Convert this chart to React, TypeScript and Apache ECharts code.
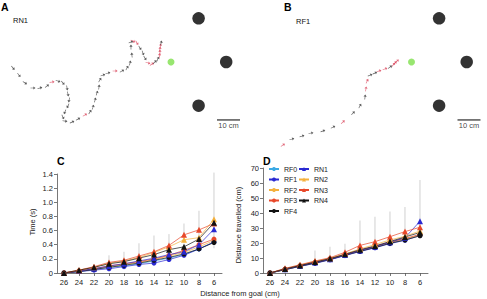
import React, { useEffect, useRef } from "react";
import * as echarts from "echarts";

// Distance from goal (cm) at which each measurement was taken
const distances = [26, 24, 22, 20, 18, 16, 14, 12, 10, 8, 6];

// Time to reach each distance (s)
const timeRF0 = [0, 0.02, 0.05, 0.08, 0.1, 0.13, 0.17, 0.21, 0.26, 0.34, 0.44];
const timeRF1 = [0, 0.02, 0.04, 0.06, 0.09, 0.12, 0.14, 0.19, 0.25, 0.34, 0.44];
const timeRF2 = [0, 0.03, 0.06, 0.09, 0.12, 0.15, 0.19, 0.24, 0.29, 0.37, 0.46];
const timeRF3 = [0, 0.03, 0.06, 0.1, 0.13, 0.16, 0.2, 0.25, 0.32, 0.4, 0.48];
const timeRF4 = [0, 0.02, 0.05, 0.08, 0.11, 0.14, 0.18, 0.22, 0.27, 0.34, 0.43];
const timeRN1 = [0, 0.03, 0.06, 0.1, 0.13, 0.17, 0.21, 0.26, 0.3, 0.4, 0.62];
const timeRN2 = [0, 0.04, 0.08, 0.14, 0.17, 0.22, 0.29, 0.37, 0.47, 0.5, 0.76];
const timeRN3 = [0, 0.04, 0.09, 0.15, 0.18, 0.24, 0.3, 0.39, 0.54, 0.61, 0.7];
const timeRN4 = [0, 0.04, 0.08, 0.13, 0.16, 0.21, 0.26, 0.33, 0.37, 0.48, 0.71];
const timeErrLow = [0, 0, 0.06, 0.12, 0.16, 0.2, 0.25, 0.3, 0.42, 0.45, 0.35];
const timeErrHigh = [0, 0, 0.12, 0.25, 0.3, 0.42, 0.53, 0.55, 0.7, 0.88, 1.42];

// Distance travelled to reach each distance (cm)
const travRF0 = [0, 2.3, 4.6, 6.7, 9.1, 11.9, 14.6, 17.2, 20.0, 22.3, 25.5];
const travRF1 = [0, 2.2, 4.4, 6.4, 8.8, 11.6, 14.3, 16.8, 19.6, 21.8, 25.0];
const travRF2 = [0, 2.4, 4.7, 6.9, 9.3, 12.1, 14.9, 17.5, 20.3, 22.6, 25.2];
const travRF3 = [0, 2.5, 4.9, 7.1, 9.5, 12.3, 15.1, 17.8, 20.6, 23.0, 25.8];
const travRF4 = [0, 2.2, 4.5, 6.6, 9.0, 11.8, 14.5, 17.0, 19.8, 22.0, 24.8];
const travRN1 = [0, 2.5, 4.8, 7.0, 9.2, 12.0, 15.0, 17.5, 20.5, 23.5, 34.5];
const travRN2 = [0, 2.8, 5.3, 7.8, 9.8, 12.8, 16.0, 19.0, 22.0, 24.5, 28.0];
const travRN3 = [0, 3.1, 5.5, 8.0, 10.2, 13.8, 18.4, 20.9, 24.2, 27.6, 30.5];
const travRN4 = [0, 2.7, 5.0, 7.3, 9.6, 12.5, 15.5, 18.0, 21.0, 24.0, 27.0];
const travErrLow = [0, 0, 4.5, 6.4, 9.0, 12.0, 15.0, 18.0, 21.0, 24.0, 26.0];
const travErrHigh = [0, 0, 6.5, 15.0, 17.5, 19.5, 35.0, 37.5, 41.0, 44.0, 62.0];

// Arena layout (cm, goal at origin)
const goal = [[0, 0]];
const objects = [
  [12, 19],
  [24, 0],
  [12, -19],
];
const scaleBar = [
  [20, -25.2],
  [30, -25.2],
];

// Head positions along each track (x cm, y cm, 1 = red segment)
const trackRN1 = [
  [-71.3, 0.4, 0], [-68.7, -2.6, 0], [-66.1, -5.7, 0], [-63.5, -9.1, 0], [-60.0, -11.3, 0],
  [-57.0, -11.3, 0], [-53.9, -10.4, 0], [-51.7, -8.7, 1], [-49.1, -8.3, 0], [-47.0, -9.1, 0],
  [-45.2, -11.3, 0], [-44.8, -13.9, 0], [-44.3, -16.5, 0], [-44.8, -19.1, 0], [-46.1, -21.7, 0],
  [-47.0, -23.9, 0], [-46.1, -25.7, 0], [-43.0, -26.1, 0], [-40.4, -24.8, 0], [-37.4, -23.0, 1],
  [-35.2, -21.7, 0], [-33.9, -19.6, 0], [-33.0, -16.5, 0], [-32.2, -13.5, 0], [-31.3, -10.9, 0],
  [-30.9, -7.8, 0], [-29.6, -5.7, 0], [-27.4, -4.8, 0], [-24.3, -3.9, 1], [-21.3, -3.9, 0],
  [-19.1, -2.6, 0], [-17.8, -0.4, 0], [-17.0, 3.0, 0], [-17.4, 6.5, 0], [-17.4, 8.7, 0],
  [-16.5, 9.1, 1], [-14.8, 8.3, 1], [-13.5, 6.1, 0], [-12.2, 3.9, 0], [-11.3, 1.7, 0],
  [-10.0, -0.4, 1], [-8.3, -0.9, 1], [-7.0, 0.0, 0], [-5.7, 1.3, 0], [-5.0, 2.8, 1],
  [-4.8, 4.3, 1], [-4.8, 5.6, 1], [-4.6, 7.0, 1], [-4.3, 8.3, 0],
];
const trackRF1 = [
  [-55.9, -36.1, 1], [-52.0, -33.5, 0], [-47.6, -32.2, 0], [-43.7, -30.9, 0], [-38.5, -30.0, 0],
  [-34.1, -28.3, 0], [-29.8, -26.1, 1], [-25.4, -22.2, 0], [-22.4, -19.1, 0], [-20.2, -15.2, 0],
  [-19.8, -11.7, 1], [-19.3, -8.3, 1], [-18.0, -5.7, 0], [-15.9, -4.8, 0], [-14.1, -3.9, 1],
  [-11.5, -3.0, 1], [-9.3, -2.2, 0], [-7.8, -1.1, 1], [-7.2, -0.4, 1], [-6.3, 0.4, 1],
];

const FONT = "'Liberation Sans', Arial, Helvetica, sans-serif";
const GREY = "#333333";
const RED = "#d9435a";

const colors: Record<string, string> = {
  RF0: "#3aa9e4",
  RF1: "#2a2ad2",
  RF2: "#f4b13c",
  RF3: "#e8482a",
  RF4: "#111111",
  RN1: "#2a2ad2",
  RN2: "#f4b13c",
  RN3: "#e8482a",
  RN4: "#111111",
};

const timeSeries: [string, number[]][] = [
  ["RF0", timeRF0], ["RF1", timeRF1], ["RF2", timeRF2], ["RF3", timeRF3], ["RF4", timeRF4],
  ["RN1", timeRN1], ["RN2", timeRN2], ["RN3", timeRN3], ["RN4", timeRN4],
];
const travSeries: [string, number[]][] = [
  ["RF0", travRF0], ["RF1", travRF1], ["RF2", travRF2], ["RF3", travRF3], ["RF4", travRF4],
  ["RN1", travRN1], ["RN2", travRN2], ["RN3", travRN3], ["RN4", travRN4],
];

const ARROW = "path://M5,0 L10,6 L6,6 L6,14 L4,14 L4,6 L0,6 Z";

function trackItems(track: number[][]) {
  return track.map((p, i) => {
    const a = i < track.length - 1 ? track[i] : track[i - 1];
    const b = i < track.length - 1 ? track[i + 1] : track[i];
    const ang = (Math.atan2(b[1] - a[1], b[0] - a[0]) * 180) / Math.PI - 90;
    return {
      value: [p[0], p[1]],
      symbolRotate: ang,
      itemStyle: { color: p[2] ? RED : GREY },
    };
  });
}

function arenaSeries(idx: number, track: number[][]) {
  return [
    {
      type: "scatter",
      xAxisIndex: idx,
      yAxisIndex: idx,
      symbol: ARROW,
      symbolSize: [3.2, 5],
      data: trackItems(track),
      silent: true,
    },
    {
      type: "scatter",
      xAxisIndex: idx,
      yAxisIndex: idx,
      symbolSize: 12.5,
      itemStyle: { color: "#000" },
      data: objects,
      silent: true,
    },
    {
      type: "scatter",
      xAxisIndex: idx,
      yAxisIndex: idx,
      symbolSize: 7,
      itemStyle: { color: "#7ee04c" },
      data: goal,
      silent: true,
    },
    {
      type: "line",
      xAxisIndex: idx,
      yAxisIndex: idx,
      symbol: "none",
      lineStyle: { color: "#000", width: 1 },
      data: scaleBar,
      silent: true,
    },
    {
      type: "scatter",
      xAxisIndex: idx,
      yAxisIndex: idx,
      symbolSize: 0,
      data: [[(scaleBar[0][0] + scaleBar[1][0]) / 2, scaleBar[0][1]]],
      label: {
        show: true,
        position: "bottom",
        distance: 1.5,
        formatter: "10 cm",
        fontFamily: FONT,
        fontSize: 7.5,
        color: "#111",
      },
      silent: true,
    },
  ];
}

function lineSeries(idx: number, list: [string, number[]][]) {
  return list.map(([name, vals]) => ({
    type: "line",
    name,
    xAxisIndex: idx,
    yAxisIndex: idx,
    data: distances.map((d, i) => [d, vals[i]]),
    symbol: name.startsWith("RF") ? "circle" : "triangle",
    symbolSize: name.startsWith("RF") ? 5 : 6,
    itemStyle: { color: colors[name] },
    lineStyle: { color: colors[name], width: 0.7 },
    z: 3,
  }));
}

function errorSeries(idx: number, lo: number[], hi: number[]) {
  return {
    type: "custom",
    xAxisIndex: idx,
    yAxisIndex: idx,
    silent: true,
    z: 1,
    encode: { x: 0, y: [1, 2] },
    data: distances.map((d, i) => [d, lo[i], hi[i]]),
    renderItem: (_params: any, api: any) => {
      const x = api.value(0);
      const a = api.coord([x, api.value(1)]);
      const b = api.coord([x, api.value(2)]);
      return {
        type: "line",
        shape: { x1: a[0], y1: a[1], x2: b[0], y2: b[1] },
        style: { stroke: "#c4c4c4", lineWidth: 0.8 },
      };
    },
  };
}

const axisText = { fontFamily: FONT, fontSize: 7.5, color: "#222" };
const axisLine = { show: true, lineStyle: { color: "#555", width: 0.8 } };

function distAxis(idx: number) {
  return {
    type: "value",
    gridIndex: idx,
    inverse: true,
    min: 4.93,
    max: 26.93,
    axisLine,
    axisTick: { show: true, length: 3, lineStyle: { color: "#555", width: 0.8 }, customValues: distances },
    axisLabel: { ...axisText, margin: 5, customValues: distances },
    splitLine: { show: false },
  };
}

const hiddenAxis = (idx: number, min: number, max: number) => ({
  type: "value",
  gridIndex: idx,
  min,
  max,
  show: false,
  splitLine: { show: false },
});

function label(text: string, x: number, y: number, font: string, extra: any = {}) {
  return {
    type: "text",
    x,
    y,
    z: 100,
    ...extra,
    style: { text, font, fill: "#111", align: "left", verticalAlign: "middle", ...(extra.style || {}) },
  };
}

export default function App() {
  const ref = useRef<HTMLDivElement>(null);

  useEffect(() => {
    if (!ref.current) return;
    const chart = echarts.init(ref.current, undefined, { renderer: "svg" });
    const legendText = { fontFamily: FONT, fontSize: 7, color: "#222", lineHeight: 8 };
    const bold = `bold 10.5px ${FONT}`;
    const small = `7.5px ${FONT}`;
    chart.setOption({
      animation: false,
      backgroundColor: "#fff",
      grid: [
        { left: 10, top: 4.5, width: 230, height: 149.5 },
        { left: 250.5, top: 4.5, width: 230, height: 149.5 },
        { left: 57, top: 174, width: 165, height: 99 },
        { left: 263, top: 168, width: 165, height: 105 },
      ],
      xAxis: [hiddenAxis(0, -70, 30), hiddenAxis(1, -70, 30), distAxis(2), distAxis(3)],
      yAxis: [
        hiddenAxis(0, -40, 25),
        hiddenAxis(1, -40, 25),
        {
          type: "value",
          gridIndex: 2,
          min: 0,
          max: 1.4,
          interval: 0.2,
          axisLine,
          axisTick: { show: true, length: 3, lineStyle: { color: "#555", width: 0.8 } },
          axisLabel: {
            ...axisText,
            margin: 4,
            formatter: (v: number) => (v === 0 ? "0" : v.toFixed(1)),
          },
          splitLine: { show: false },
        },
        {
          type: "value",
          gridIndex: 3,
          min: 0,
          max: 70,
          interval: 10,
          axisLine,
          axisTick: { show: true, length: 3, lineStyle: { color: "#555", width: 0.8 } },
          axisLabel: { ...axisText, margin: 4 },
          splitLine: { show: false },
        },
      ],
      legend: [
        {
          data: ["RF0", "RF1", "RF2", "RF3", "RF4"],
          orient: "vertical",
          left: 268,
          top: 165,
          padding: 0,
          itemWidth: 10,
          itemHeight: 5,
          itemGap: 2.5,
          textStyle: legendText,
          selectedMode: false,
        },
        {
          data: ["RN1", "RN2", "RN3", "RN4"],
          orient: "vertical",
          left: 298,
          top: 165,
          padding: 0,
          itemWidth: 10,
          itemHeight: 5,
          itemGap: 2.5,
          textStyle: legendText,
          selectedMode: false,
        },
      ],
      series: [
        ...arenaSeries(0, trackRN1),
        ...arenaSeries(1, trackRF1),
        errorSeries(2, timeErrLow, timeErrHigh),
        errorSeries(3, travErrLow, travErrHigh),
        ...lineSeries(2, timeSeries),
        ...lineSeries(3, travSeries),
      ],
      graphic: [
        label("A", 1, 7, bold, { style: { fill: "#000" } }),
        label("B", 284, 7, bold, { style: { fill: "#000" } }),
        label("C", 57, 161, bold, { style: { fill: "#000" } }),
        label("D", 263, 161, bold, { style: { fill: "#000" } }),
        label("RN1", 13, 20, small),
        label("RF1", 296, 21, small),
        label("Time (s)", 32, 222, small, {
          rotation: Math.PI / 2,
          style: { align: "center", fill: "#222" },
        }),
        label("Distance travelled (cm)", 238, 225, small, {
          rotation: Math.PI / 2,
          style: { align: "center", fill: "#222" },
        }),
        label("Distance from goal (cm)", 240, 293, small, { style: { align: "center", fill: "#222" } }),
      ],
    });
    return () => chart.dispose();
  }, []);

  return (
    <div
      ref={ref}
      style={{ position: "absolute", left: 0, top: 0, width: 487, height: 299 }}
    />
  );
}
